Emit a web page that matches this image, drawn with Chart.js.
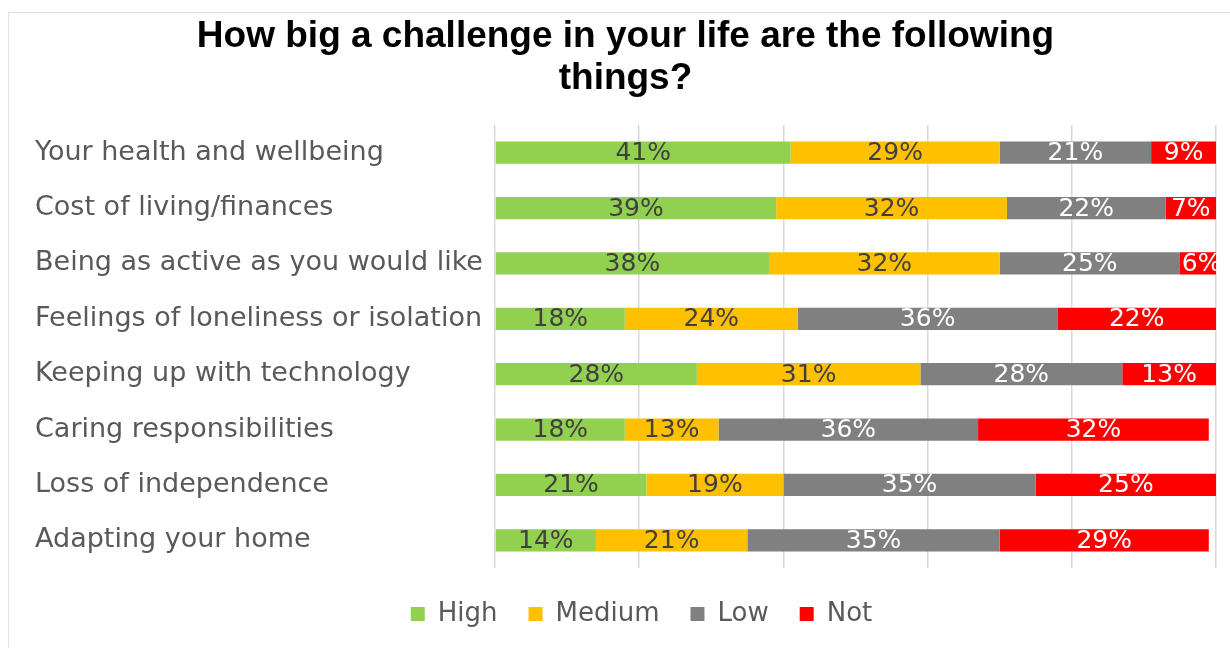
<!DOCTYPE html>
<html>
<head>
<meta charset="utf-8">
<script src="https://cdn.jsdelivr.net/npm/chart.js@4.4.1/dist/chart.umd.min.js"></script>
<style>
  html, body { margin: 0; padding: 0; background: #ffffff; overflow: hidden; }
  #frame { position: absolute; left: 8px; top: 12px; width: 1240px; height: 660px; border: 1px solid #e2e2e2; box-sizing: border-box; }
  #wrap { position: absolute; left: 0; top: 0; width: 1230px; height: 648px; }
</style>
</head>
<body>
<div id="frame"></div>
<div id="wrap"><canvas id="chart" width="1230" height="648"></canvas></div>
<script>
// Survey question and answer categories
const categories = [
  'Your health and wellbeing',
  'Cost of living/finances',
  'Being as active as you would like',
  'Feelings of loneliness or isolation',
  'Keeping up with technology',
  'Caring responsibilities',
  'Loss of independence',
  'Adapting your home'
];

// Share of respondents (%) per challenge level
const high   = [41, 39, 38, 18, 28, 18, 21, 14];
const medium = [29, 32, 32, 24, 31, 13, 19, 21];
const low    = [21, 22, 25, 36, 28, 36, 35, 35];
const not    = [9, 7, 6, 22, 13, 32, 25, 29];

const xTicks = [0, 20, 40, 60, 80, 100];

const series = [
  { label: 'High',   data: high,   color: '#92D050', text: '#404040' },
  { label: 'Medium', data: medium, color: '#FFC000', text: '#404040' },
  { label: 'Low',    data: low,    color: '#808080', text: '#ffffff' },
  { label: 'Not',    data: not,    color: '#FF0000', text: '#ffffff' }
];

const bodyFont = '"DejaVu Sans", "Noto Sans", sans-serif';

// Writes each segment's percentage in the middle of its bar
const segmentLabels = {
  id: 'segmentLabels',
  afterDatasetsDraw(chart) {
    const ctx = chart.ctx;
    ctx.save();
    ctx.font = '25px ' + bodyFont;
    ctx.textAlign = 'center';
    ctx.textBaseline = 'middle';
    chart.data.datasets.forEach((ds, i) => {
      const meta = chart.getDatasetMeta(i);
      meta.data.forEach((bar, j) => {
        const v = ds.data[j];
        ctx.fillStyle = series[i].text;
        ctx.fillText(v + '%', (bar.x + bar.base) / 2, bar.y + 1);
      });
    });
    ctx.restore();
  }
};

// Nudges the legend row a little to the right, under the bars
const legendOffset = {
  id: 'legendOffset',
  afterLayout(chart) {
    if (chart.legend) {
      chart.legend.left += 16;
      chart.legend.right += 16;
    }
  }
};

new Chart(document.getElementById('chart'), {
  type: 'bar',
  data: {
    labels: categories,
    datasets: series.map(s => ({
      label: s.label,
      data: s.data,
      backgroundColor: s.color,
      borderWidth: 0,
      barPercentage: 0.4,
      categoryPercentage: 1.0
    }))
  },
  options: {
    indexAxis: 'y',
    responsive: false,
    animation: false,
    layout: { padding: { left: 35, right: 14, top: 16, bottom: 11 } },
    scales: {
      x: {
        stacked: true,
        min: 0,
        max: 100,
        afterBuildTicks(scale) { scale.ticks = xTicks.map(v => ({ value: v })); },
        afterFit(scale) { scale.height = 2; scale.paddingLeft = 0; scale.paddingRight = 0; },
        ticks: { display: false },
        grid: { color: '#d9d9d9', lineWidth: 1.5, drawTicks: false },
        border: { display: false }
      },
      y: {
        stacked: true,
        afterFit(scale) { scale.width = 460; scale.paddingTop = 0; scale.paddingBottom = 0; },
        ticks: {
          crossAlign: 'far',
          color: '#595959',
          font: { family: bodyFont, size: 27 }
        },
        grid: { display: false },
        border: { display: false }
      }
    },
    plugins: {
      title: {
        display: true,
        text: ['How big a challenge in your life are the following', 'things?'],
        color: '#000000',
        font: { family: '"Liberation Sans", Arial, sans-serif', size: 37, weight: 'bold', lineHeight: '42px' },
        padding: { top: 0, bottom: 25 }
      },
      legend: {
        position: 'bottom',
        labels: {
          boxWidth: 14,
          boxHeight: 14,
          padding: 31,
          color: '#595959',
          font: { family: bodyFont, size: 26 }
        }
      },
      tooltip: { enabled: false }
    }
  },
  plugins: [segmentLabels, legendOffset]
});
</script>
</body>
</html>
